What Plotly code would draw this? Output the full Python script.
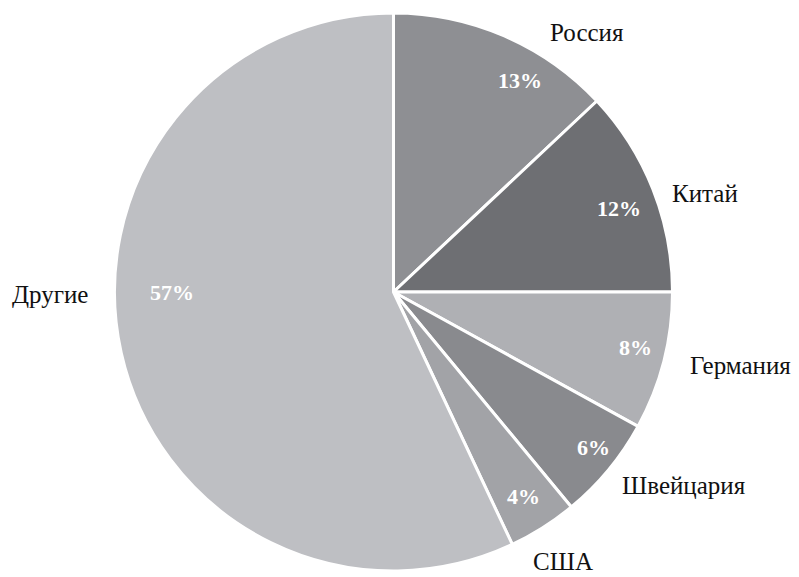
import math
import plotly.graph_objects as go

# ---- data ----
countries = ["Россия", "Китай", "Германия", "Швейцария", "США", "Другие"]
shares = [13, 12, 8, 6, 4, 57]
pct_labels = ["13%", "12%", "8%", "6%", "4%", "57%"]

# ---- style ----
colors = ["#8e8f93", "#6e6f73", "#afb0b4", "#898a8e", "#a2a3a7", "#bebfc3"]
W, H = 799, 577
CX, CY, R = 393.5, 292, 279  # pie centre / radius in pixels
# label placement: (angle offset from slice middle in degrees, radius factor)
name_place = [(13.3, 1.158), (4.0, 1.173), (-2.4, 1.27), (-6.0, 1.252), (0.3, 1.142), (12.1, 1.232)]
pct_place = [(7.5, 0.882), (1.2, 0.861), (-1.4, 0.889), (-1.8, 0.907), (-0.2, 0.868), (12.6, 0.793)]
FONT = "Liberation Serif, Times New Roman, DejaVu Serif, serif"

fig = go.Figure()
fig.add_trace(go.Pie(
    labels=countries, values=shares, sort=False, direction="clockwise", rotation=0,
    marker=dict(colors=colors, line=dict(color="white", width=3)),
    textinfo="none", hoverinfo="label+percent", showlegend=False,
    domain=dict(x=[(CX - R) / W, (CX + R) / W], y=[(H - CY - R) / H, (H - CY + R) / H]),
))

total = sum(shares)
cum = 0
annotations = []
for i, v in enumerate(shares):
    mid = (cum + v / 2) / total * 360
    cum += v
    for (dang, rf), txt, color, bold, size in [
        (name_place[i], countries[i], "#111111", False, 25),
        (pct_place[i], pct_labels[i], "white", True, 22),
    ]:
        a = math.radians(mid + dang)
        px = CX + rf * R * math.sin(a)
        py = CY - rf * R * math.cos(a)
        annotations.append(dict(
            x=px / W, y=1 - py / H, xref="paper", yref="paper",
            text=f"<b>{txt}</b>" if bold else txt, showarrow=False,
            xanchor="center", yanchor="middle",
            font=dict(family=FONT, size=size, color=color),
        ))

fig.update_layout(
    width=W, height=H, margin=dict(l=0, r=0, t=0, b=0),
    paper_bgcolor="white", plot_bgcolor="white",
    font=dict(family=FONT),
    annotations=annotations,
)
fig.write_html("out.html", config={"displayModeBar": False},
               post_script="document.body.style.margin='0';")
